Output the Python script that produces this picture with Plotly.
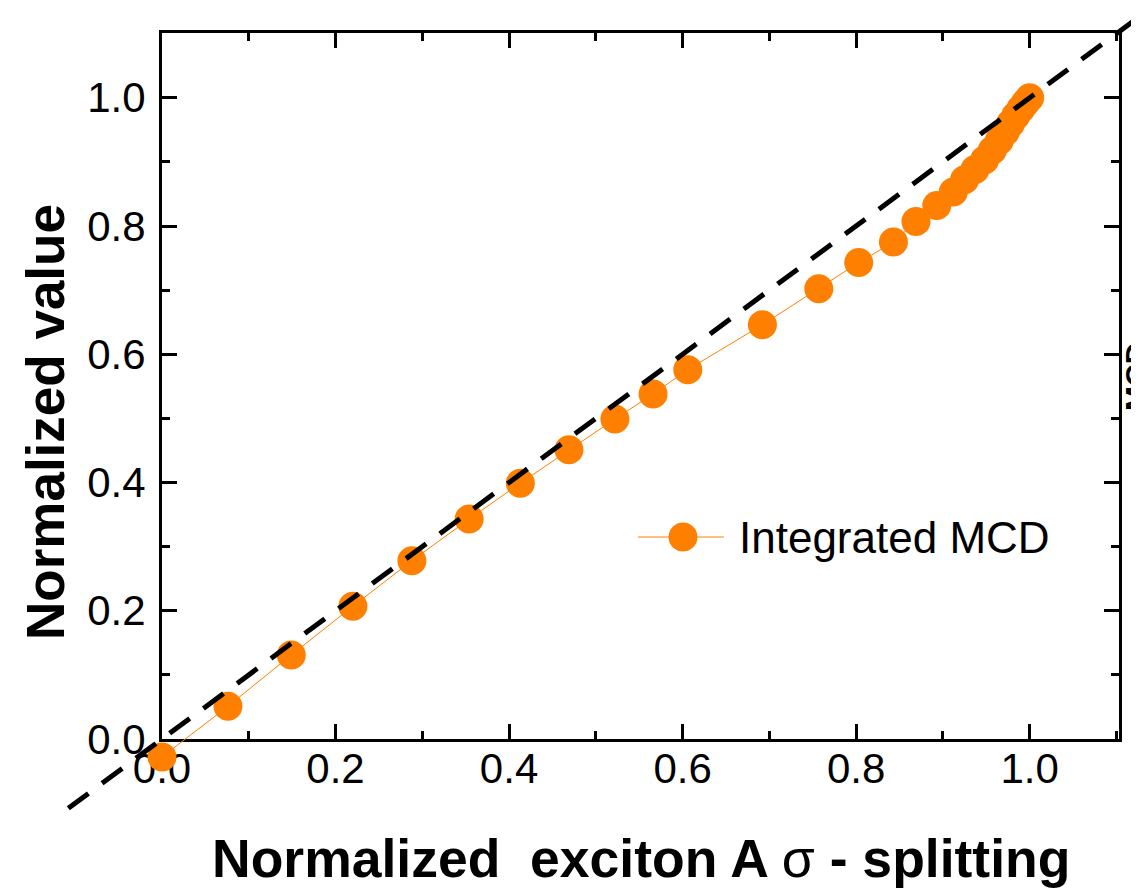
import plotly.graph_objects as go

# ---- data ----
x_vals = [0.0, 0.076, 0.149, 0.220, 0.288, 0.354, 0.413, 0.469, 0.522, 0.566, 0.606,
          0.692, 0.757, 0.803, 0.843, 0.869, 0.893, 0.912, 0.925, 0.937, 0.948, 0.957,
          0.965, 0.972, 0.978, 0.984, 0.990, 0.995, 1.0]
y_vals = [-0.028, 0.051, 0.131, 0.207, 0.278, 0.343, 0.399, 0.451, 0.499, 0.538, 0.576,
          0.646, 0.702, 0.743, 0.775, 0.807, 0.832, 0.853, 0.872, 0.888, 0.903, 0.918,
          0.933, 0.947, 0.960, 0.972, 0.983, 0.992, 1.0]
ref_x = [-0.108, 1.25]          # y = x reference line
ref_y = [-0.108, 1.25]
series_name = "Integrated MCD"
x_title = "<b>Normalized  exciton A <span style='font-weight:normal'>σ</span> - splitting</b>"
y_title = "<b>Normalized value</b>"
x_range = [0.0, 1.103]
y_range = [0.0, 1.101]

# ---- layout geometry ----
W, H = 1139, 889
OFF = 8   # page body margin offset
def px(v):
    return (v - OFF) / W
def py(v):
    return 1 - (v - OFF) / H

dom_x = [px(162), px(1119)]
dom_y = [py(739), py(33)]
FONT = "Liberation Sans, Arial, sans-serif"
ORANGE = "#FF8000"

def full_range(rng, dom):
    span = (rng[1] - rng[0]) / (dom[1] - dom[0])
    lo = rng[0] - dom[0] * span
    return [lo, lo + span]

fig = go.Figure()

# data trace on full-figure overlay axes (same scale, no clipping at frame)
fig.add_trace(go.Scatter(
    x=x_vals, y=y_vals, mode="lines+markers", name=series_name,
    line=dict(color=ORANGE, width=1),
    marker=dict(color=ORANGE, size=29, line=dict(width=0)),
    xaxis="x2", yaxis="y2", showlegend=False))

# dashed y=x line
fig.add_trace(go.Scatter(
    x=ref_x, y=ref_y, mode="lines",
    line=dict(color="black", width=5, dash="25px,17px"),
    xaxis="x2", yaxis="y2", showlegend=False))

# invisible trace to establish main axes
fig.add_trace(go.Scatter(x=[None], y=[None], mode="markers", showlegend=False))

# manual legend key (paper-like axes x3/y3)
leg_y = py(537)
fig.add_trace(go.Scatter(
    x=[px(638), px(724)], y=[leg_y, leg_y], mode="lines",
    line=dict(color=ORANGE, width=1), xaxis="x3", yaxis="y3", showlegend=False))
fig.add_trace(go.Scatter(
    x=[px(683)], y=[leg_y], mode="markers",
    marker=dict(color=ORANGE, size=29, line=dict(width=0)),
    xaxis="x3", yaxis="y3", showlegend=False))

axis_common = dict(
    showline=True, linecolor="black", linewidth=3, mirror="ticks",
    ticks="inside", ticklen=15, tickwidth=2.5, tickcolor="black",
    showgrid=False, zeroline=False, dtick=0.2, tick0=0, automargin=False,
    tickformat=".1f", tickfont=dict(family=FONT, size=42, color="black"),
    minor=dict(ticks="inside", ticklen=8, tickwidth=2.5, tickcolor="black",
               dtick=0.1, showgrid=False),
)

hidden = dict(visible=False, showgrid=False, zeroline=False, fixedrange=True,
              automargin=False)

fig.update_layout(
    template="none",
    width=W, height=H, autosize=False,
    margin=dict(l=0, r=0, t=0, b=0, pad=0),
    paper_bgcolor="white", plot_bgcolor="rgba(0,0,0,0)",
    showlegend=False,
    xaxis=dict(domain=dom_x, range=x_range, anchor="y",
               ticklabelstandoff=-9, **axis_common),
    yaxis=dict(domain=dom_y, range=y_range, anchor="x",
               ticklabelstandoff=5, **axis_common),
    xaxis2=dict(domain=[0, 1], range=full_range(x_range, dom_x), anchor="y2", **hidden),
    yaxis2=dict(domain=[0, 1], range=full_range(y_range, dom_y), anchor="x2", **hidden),
    xaxis3=dict(domain=[0, 1], range=[0, 1], anchor="y3", **hidden),
    yaxis3=dict(domain=[0, 1], range=[0, 1], anchor="x3", **hidden),
    annotations=[
        dict(text=x_title, x=px(641), y=py(858), xref="paper", yref="paper",
             xanchor="center", yanchor="middle", showarrow=False,
             font=dict(family=FONT, size=53.5, color="black")),
        dict(text=y_title, x=px(45), y=py(422), xref="paper", yref="paper",
             xanchor="center", yanchor="middle", showarrow=False, textangle=-90,
             font=dict(family=FONT, size=53, color="black")),
        dict(text=series_name, x=px(737), y=leg_y, xref="paper", yref="paper",
             xanchor="left", yanchor="middle", showarrow=False,
             font=dict(family=FONT, size=44, color="black")),
        dict(text="<b>MCD</b>", x=px(1135), y=py(377), xref="paper", yref="paper",
             xanchor="center", yanchor="middle", showarrow=False, textangle=-90,
             font=dict(family=FONT, size=30, color="black")),
    ],
)

fig.write_html("out.html")
